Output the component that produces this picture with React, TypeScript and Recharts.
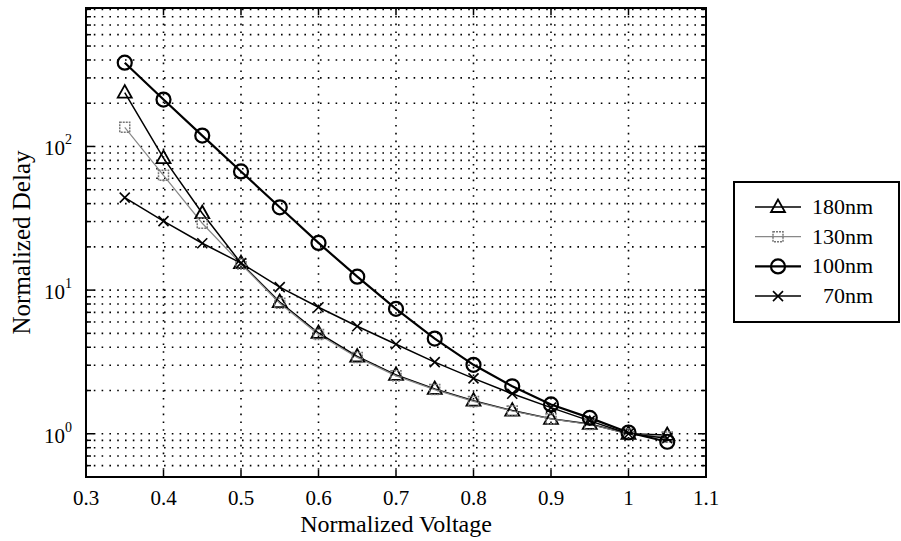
import React from 'react';
import { LineChart, Line, XAxis, YAxis, CartesianGrid } from 'recharts';

const voltage = [0.35, 0.4, 0.45, 0.5, 0.55, 0.6, 0.65, 0.7, 0.75, 0.8, 0.85, 0.9, 0.95, 1.0, 1.05];
const delay180 = [237, 83, 34.3, 15.4, 8.26, 5.03, 3.45, 2.57, 2.05, 1.7, 1.45, 1.27, 1.17, 1.0, 0.98];
const delay130 = [136, 63, 29.2, 15.2, 8.1, 4.9, 3.4, 2.53, 2.03, 1.68, 1.44, 1.27, 1.16, 1.0, 0.95];
const delay100 = [383, 212, 119, 67, 37.7, 21.3, 12.4, 7.4, 4.6, 3.02, 2.14, 1.6, 1.29, 1.02, 0.88];
const delay70 = [44, 30.2, 21.2, 15.4, 10.5, 7.6, 5.6, 4.2, 3.15, 2.43, 1.9, 1.52, 1.23, 1.0, 0.93];

const seriesNames = ['180nm', '130nm', '100nm', '70nm'];
const xTicks = [0.3, 0.4, 0.5, 0.6, 0.7, 0.8, 0.9, 1.0, 1.1];
const xTickLabels = ['0.3', '0.4', '0.5', '0.6', '0.7', '0.8', '0.9', '1', '1.1'];
const yMajorTicks = [1, 10, 100];
const yMajorExp = ['0', '1', '2'];
const yGridValues = [
  0.6, 0.7, 0.8, 0.9, 1, 2, 3, 4, 5, 6, 7, 8, 9,
  10, 20, 30, 40, 50, 60, 70, 80, 90,
  100, 200, 300, 400, 500, 600, 700, 800, 900,
];

const data = voltage.map((v, i) => ({
  v,
  s180: delay180[i],
  s130: delay130[i],
  s100: delay100[i],
  s70: delay70[i],
}));

const FONT = '"Liberation Serif", "Times New Roman", serif';
const PLOT_LEFT = 86;
const PLOT_TOP = 8;
const PLOT_RIGHT = 706;
const PLOT_BOTTOM = 477;
const PLOT_W = PLOT_RIGHT - PLOT_LEFT;
const PLOT_H = PLOT_BOTTOM - PLOT_TOP;

const TriangleDot = (props: any) => {
  const { cx, cy, key } = props;
  if (cx == null || cy == null) return null;
  return (
    <path key={key} d={`M${cx},${cy - 7.5} L${cx - 7},${cy + 5} L${cx + 7},${cy + 5} Z`} fill="none" stroke="#000" strokeWidth={1.8} />
  );
};
const SquareDot = (props: any) => {
  const { cx, cy, key } = props;
  if (cx == null || cy == null) return null;
  return <rect key={key} x={cx - 5} y={cy - 5} width={10} height={10} fill="none" stroke="#777" strokeWidth={1.5} strokeDasharray="2 1" />;
};
const CircleDot = (props: any) => {
  const { cx, cy, key } = props;
  if (cx == null || cy == null) return null;
  return <circle key={key} cx={cx} cy={cy} r={7} fill="none" stroke="#000" strokeWidth={2.2} />;
};
const CrossDot = (props: any) => {
  const { cx, cy, key } = props;
  if (cx == null || cy == null) return null;
  return (
    <g key={key}>
      <line x1={cx - 5} y1={cy - 5} x2={cx + 5} y2={cy + 5} stroke="#000" strokeWidth={1.6} />
      <line x1={cx - 5} y1={cy + 5} x2={cx + 5} y2={cy - 5} stroke="#000" strokeWidth={1.6} />
    </g>
  );
};

const XTick = (props: any) => {
  const { x, y, payload } = props;
  const idx = xTicks.indexOf(payload.value);
  const label = idx >= 0 ? xTickLabels[idx] : String(payload.value);
  return (
    <g>
      <line x1={x} y1={y} x2={x} y2={y - 7} stroke="#000" strokeWidth={1.5} />
      <line x1={x} y1={y - PLOT_H} x2={x} y2={y - PLOT_H + 7} stroke="#000" strokeWidth={1.5} />
      <text x={x} y={y + 28} textAnchor="middle" fontFamily={FONT} fontSize={21} fill="#000">{label}</text>
    </g>
  );
};

const YTick = (props: any) => {
  const { x, y, payload } = props;
  const mi = yMajorTicks.indexOf(payload.value);
  const len = mi >= 0 ? 8 : 5;
  return (
    <g>
      <line x1={x} y1={y} x2={x + len} y2={y} stroke="#000" strokeWidth={1.5} />
      <line x1={x + PLOT_W} y1={y} x2={x + PLOT_W - len} y2={y} stroke="#000" strokeWidth={1.5} />
      {mi >= 0 && (
        <text x={x - 14} y={y + 9} textAnchor="end" fontFamily={FONT} fontSize={21} fill="#000">
          10<tspan dy={-11} fontSize={14}>{yMajorExp[mi]}</tspan>
        </text>
      )}
    </g>
  );
};

const YLabel = (props: any) => {
  const vb = props.viewBox || {};
  const cx = 30;
  const cy = (vb.y ?? PLOT_TOP) + (vb.height ?? PLOT_H) / 2;
  return (
    <text x={cx} y={cy} transform={`rotate(-90, ${cx}, ${cy})`} textAnchor="middle" fontFamily={FONT} fontSize={25} fill="#000">
      Normalized Delay
    </text>
  );
};

const XLabel = (props: any) => {
  const vb = props.viewBox || {};
  const cx = (vb.x ?? PLOT_LEFT) + (vb.width ?? PLOT_W) / 2;
  return (
    <text x={cx} y={532} textAnchor="middle" fontFamily={FONT} fontSize={24} fill="#000">
      Normalized Voltage
    </text>
  );
};

const legendMarkers = [TriangleDot, SquareDot, CircleDot, CrossDot];
const legendLineStyles = [
  { stroke: '#000', width: 1.5 },
  { stroke: '#888', width: 1.2 },
  { stroke: '#000', width: 2.2 },
  { stroke: '#000', width: 1.5 },
];

const LEG_LEFT = 733;
const LEG_TOP = 181;
const LEG_W = 167;
const LEG_H = 142;

const LegendBox = () => (
  <div
    style={{
      position: 'absolute',
      left: LEG_LEFT,
      top: LEG_TOP,
      width: LEG_W,
      height: LEG_H,
      border: '2px solid #000',
      background: '#fff',
      boxSizing: 'border-box',
    }}
  >
    <svg width={LEG_W - 4} height={LEG_H - 4} style={{ position: 'absolute', left: 0, top: 0 }}>
      {seriesNames.map((name, i) => {
        const y = 24 + i * 29.7;
        const M = legendMarkers[i];
        const ls = legendLineStyles[i];
        return (
          <g key={name}>
            <line x1={20} y1={y} x2={66} y2={y} stroke={ls.stroke} strokeWidth={ls.width} />
            {M({ cx: 43, cy: y })}
            <text x={138} y={y + 7} textAnchor="end" fontFamily={FONT} fontSize={22} fill="#000">{name}</text>
          </g>
        );
      })}
    </svg>
  </div>
);

export default function App() {
  return (
    <div style={{ position: 'absolute', left: 0, top: 0, width: 901, height: 541, background: '#fff' }}>
      <LineChart
        width={901}
        height={541}
        data={data}
        margin={{ top: PLOT_TOP, right: 901 - PLOT_RIGHT, bottom: 0, left: 0 }}
      >
        <CartesianGrid
          stroke="#000"
          strokeWidth={1.6}
          strokeDasharray="1.6 6.2"
          horizontalValues={yGridValues}
          verticalValues={xTicks}
        />
        <XAxis
          dataKey="v"
          type="number"
          domain={[0.3, 1.1]}
          ticks={xTicks}
          height={541 - PLOT_BOTTOM}
          tickSize={0}
          tickMargin={0}
          tickLine={false}
          axisLine={false}
          tick={<XTick />}
          interval={0}
          label={<XLabel />}
        />
        <YAxis
          type="number"
          scale="log"
          domain={[0.5, 920]}
          allowDataOverflow
          ticks={yGridValues}
          width={PLOT_LEFT}
          tickSize={0}
          tickMargin={0}
          tickLine={false}
          axisLine={false}
          tick={<YTick />}
          interval={0}
          label={<YLabel />}
        />
        <Line dataKey="s180" name={seriesNames[0]} stroke="#000" strokeWidth={1.5} dot={<TriangleDot />} isAnimationActive={false} />
        <Line dataKey="s130" name={seriesNames[1]} stroke="#888" strokeWidth={1.2} dot={<SquareDot />} isAnimationActive={false} />
        <Line dataKey="s100" name={seriesNames[2]} stroke="#000" strokeWidth={2.2} dot={<CircleDot />} isAnimationActive={false} />
        <Line dataKey="s70" name={seriesNames[3]} stroke="#000" strokeWidth={1.5} dot={<CrossDot />} isAnimationActive={false} />
      </LineChart>
      <div
        style={{
          position: 'absolute',
          left: PLOT_LEFT - 1,
          top: PLOT_TOP - 1,
          width: PLOT_W + 2,
          height: PLOT_H + 2,
          border: '2.5px solid #000',
          boxSizing: 'border-box',
          pointerEvents: 'none',
        }}
      />
      <LegendBox />
    </div>
  );
}
